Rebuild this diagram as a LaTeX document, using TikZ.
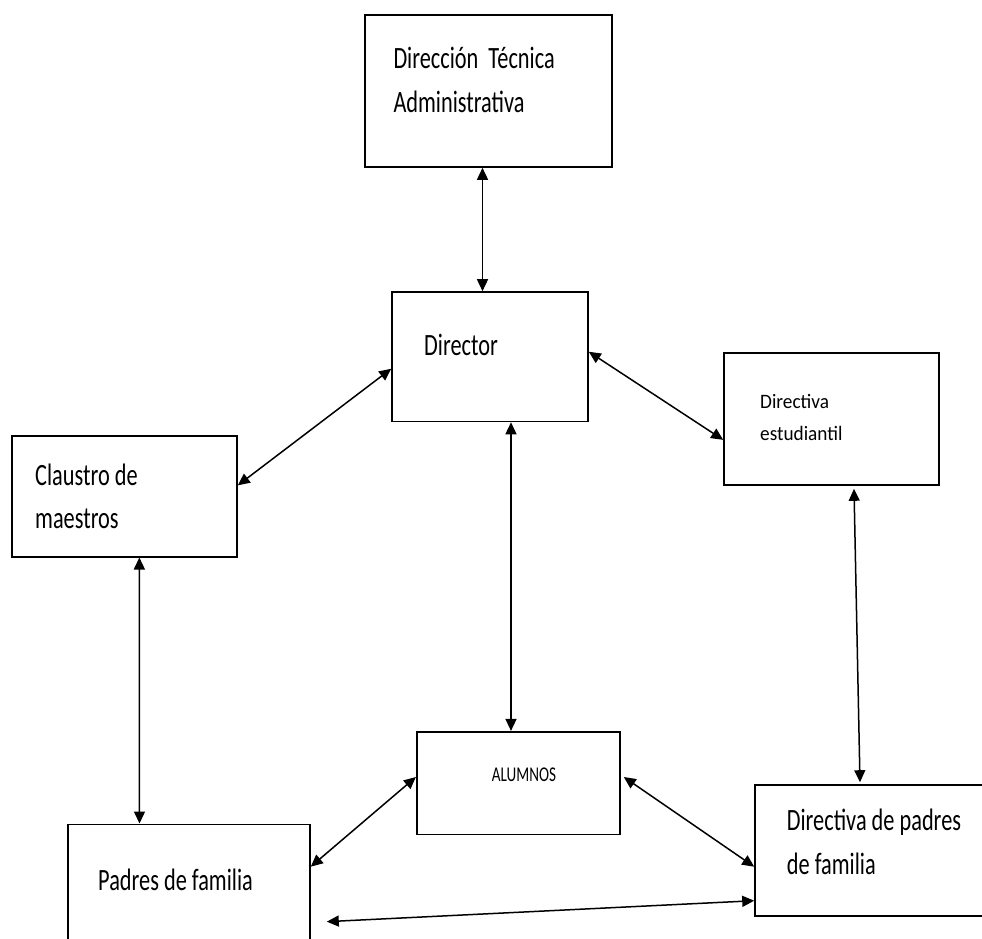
\documentclass[tikz,border=0pt]{standalone}
\usepackage{fontspec}
\setmainfont[FakeStretch=0.72]{Carlito}
\newfontfamily\estfont[FakeStretch=0.94]{Carlito}
\usetikzlibrary{positioning,calc,arrows.meta}
\begin{document}
\begin{tikzpicture}[x=1pt,y=-1pt,
      box/.style={draw=black,line width=1.6pt,inner sep=0pt},
      txt/.style={anchor=base west,inner sep=0pt,align=left,
                  font=\fontsize{31}{44.5}\selectfont},
      link/.style={line width=1.5pt,
                   {Triangle[length=12pt,width=11pt]}-{Triangle[length=12pt,width=11pt]}}]
    \useasboundingbox (0,0) rectangle (982,939);
    \clip (0,0) rectangle (982,939);
    \node[box,minimum width=247pt,minimum height=152pt] (dta) at (488.5,91) {};
    \node[box,minimum width=196pt,minimum height=129.5pt] (dir) at (490,356.75) {};
    \node[box,minimum width=215pt,minimum height=132.3pt] (dest) at (831.5,418.85) {};
    \node[box,minimum width=225.3pt,minimum height=120.7pt] (cla) at (124.35,496.35) {};
    \node[box,minimum width=203.3pt,minimum height=102.6pt] (alu) at (518.35,783) {};
    \node[box,minimum width=242.3pt,minimum height=135.7pt] (pad) at (188.85,892.15) {};
    \node[box,minimum width=245pt,minimum height=130.7pt] (dpad) at (877.5,850.35) {};
    \node[txt] (dta-t) at (393.3,113) {Dirección\ \ Técnica\\Administrativa};
    \node[txt] (dir-t) at (424,355) {Director};
    \node[txt,font=\estfont\fontsize{20.5}{32}\selectfont] (dest-t) at (760,440) {Directiva\\estudiantil};
    \node[txt,font=\fontsize{31}{43}\selectfont] (cla-t) at (35,528) {Claustro de\\maestros};
    \node[txt,font=\fontsize{21}{25}\selectfont] (alu-t) at (491.7,781.7) {ALUMNOS};
    \node[txt] (pad-t) at (98,890) {Padres de familia};
    \node[txt,font=\fontsize{31}{44}\selectfont] (dpad-t) at (786.7,874) {Directiva de padres\\de familia};
    \draw[link] ([xshift=-6pt]dta.south) -- ([xshift=-7.5pt]dir.north);
    \draw[link] ([yshift=-12pt]dir.west) -- ([yshift=11pt]cla.east);
    \draw[link] ([yshift=5pt]dir.east) -- ([yshift=-21pt]dest.west);
    \draw[link] ([xshift=21pt]dir.south) -- ([xshift=-7.35pt]alu.north);
    \draw[link] ([xshift=15pt]cla.south) -- ([xshift=-49.35pt]pad.north);
    \draw[link] ([xshift=22.5pt,yshift=-3pt]dest.south) -- ([xshift=-17.5pt,yshift=2pt]dpad.north);
    \draw[link] ([yshift=6pt]alu.west) -- ([yshift=25.5pt]pad.east);
    \draw[link] ([xshift=3pt,yshift=6pt]alu.east) -- ([yshift=-16.35pt]dpad.west);
    \draw[link] ([xshift=16pt,yshift=-29.5pt]pad.east) -- ([yshift=-50.35pt]dpad.west);
  \end{tikzpicture}
\end{document}
